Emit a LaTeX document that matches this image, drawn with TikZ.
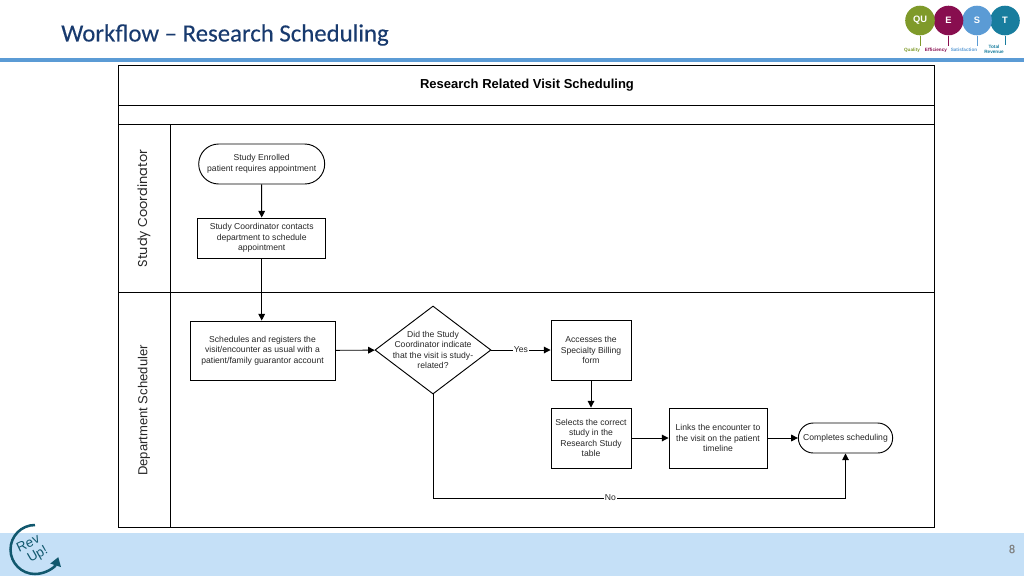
\documentclass[tikz,border=0pt]{standalone}
\usepackage{fontspec}
\setmainfont{Liberation Sans}
\newfontfamily\titlefont[FakeBold=0.2]{Carlito}
\newfontfamily\lanefont{Poppins}
\usetikzlibrary{positioning,shapes.geometric,shapes.misc,arrows.meta}
\definecolor{titleblue}{RGB}{24,58,110}
\definecolor{ruleblue}{RGB}{91,155,213}
\definecolor{bandblue}{RGB}{197,224,247}
\definecolor{revteal}{RGB}{17,88,110}
\definecolor{quolive}{RGB}{127,154,42}
\definecolor{eplum}{RGB}{136,14,79}
\definecolor{ssky}{RGB}{91,155,213}
\definecolor{tteal}{RGB}{24,125,158}
\tikzset{
  flowtext/.style={font=\fontsize{6.45pt}{7.9pt}\selectfont,align=center,text=black!85},
  stepbox/.style={draw,line width=0.7pt,flowtext,inner sep=1pt},
  endbox/.style={stepbox,rounded rectangle},
  choice/.style={draw,line width=0.7pt,diamond,inner sep=0pt,shape aspect=1.32},
  link/.style={line width=0.7pt,-{Triangle[length=5pt,width=5pt]}},
  tag/.style={flowtext,fill=white,inner sep=0.5pt},
  circ/.style={circle,inner sep=0pt,minimum size=22.2pt,text=white,font=\fontsize{7pt}{8pt}\selectfont\bfseries},
  legend/.style={font=\fontsize{3.5pt}{4pt}\selectfont\bfseries,align=center,inner sep=0pt},
  drop/.style={line width=0.2pt}
}
\begin{document}
\begin{tikzpicture}[x=0.75pt,y=0.75pt,yscale=-1,xscale=1]
\useasboundingbox (0,0) rectangle (1024,576);

%title and bands
\fill [bandblue] (0,533) rectangle (1024,576);
\fill [ruleblue] (0,58) rectangle (1024,62);
\node [anchor=west,inner sep=0pt,text=titleblue,font=\titlefont\fontsize{18.6pt}{22pt}\selectfont] (title) at (61,35) {Workflow – Research Scheduling};
\node [text=black!50,font=\titlefont\fontsize{9pt}{10pt}\selectfont,inner sep=0pt] (pagenum) at (1012,549) {8};

%swim lanes
\draw [line width=0.8pt] (118.5,65.5) rectangle (934.7,527.5);
\draw [line width=0.7pt] (118.5,105) -- (934.7,105);
\draw [line width=0.7pt] (118.5,124) -- (934.7,124);
\draw [line width=0.7pt] (118.5,292) -- (934.7,292);
\draw [line width=0.7pt] (170.5,124) -- (170.5,527.5);
\node [font=\bfseries\fontsize{9.76pt}{11pt}\selectfont,inner sep=0pt] (heading) at (527,85.5) {Research Related Visit Scheduling};
\node [rotate=90,font=\lanefont\fontsize{9.66pt}{11pt}\selectfont,text=black!85,inner sep=0pt] (coordlane) at (144,208.5) {Study Coordinator};
\node [rotate=90,font=\fontsize{9.8pt}{11pt}\selectfont,text=black!85,inner sep=0pt] (schedlane) at (144,410.5) {Department Scheduler};

%flow nodes
\node [endbox,minimum width=96.5pt,minimum height=30pt] (enrolled) at (261.7,164) {Study Enrolled\\patient requires appointment};
\node [stepbox,minimum width=96pt,minimum height=30pt] (contacts) at (261.7,238) {Study Coordinator contacts\\department to schedule\\appointment};
\node [stepbox,minimum width=108.75pt,minimum height=44.25pt] (registers) at (262.5,350.5) {Schedules and registers the\\visit/encounter as usual with a\\patient/family guarantor account};
\node [choice,minimum width=87pt,minimum height=66pt,label={[flowtext,anchor=center]center:Did the Study\\Coordinator indicate\\that the visit is study-\\related?}] (related) at (433,350) {};
\node [stepbox,minimum width=60pt,minimum height=45pt] (accesses) at (591,350) {Accesses the\\Specialty Billing\\form};
\node [stepbox,minimum width=60pt,minimum height=45pt] (selects) at (591,438) {Selects the correct\\study in the\\Research Study\\table};
\node [stepbox,minimum width=73.5pt,minimum height=45pt] (links) at (718,438) {Links the encounter to\\the visit on the patient\\timeline};
\node [endbox,minimum width=72.75pt,minimum height=22.5pt] (completes) at (845.5,438) {Completes scheduling};

%connectors
\draw [link] (enrolled) -- (contacts);
\draw [link] (contacts.south) -- (contacts.south |- registers.north);
\draw [link] (registers) -- (related);
\draw [link] (related) -- node [tag] (yes) {Yes} (accesses);
\draw [link] (accesses) -- (selects);
\draw [link] (selects) -- (links);
\draw [link] (links) -- (completes);
\coordinate (nocorner) at (433,498);
\draw [link] (related.south) -- (nocorner) -- node [tag,pos=0.43] (no) {No} (nocorner -| completes.south) -- (completes.south);

%quest logo
\node [circ,fill=tteal] (tlogo) at (1005,20.5) {T};
\node [circ,fill=ssky] (slogo) at (977,20.5) {S};
\node [circ,fill=eplum] (elogo) at (948.5,20.5) {E};
\node [circ,fill=quolive] (qlogo) at (920,20.5) {QU};
\node [legend,text=quolive] (quality) at (912,50) {Quality};
\node [legend,text=eplum] (efficiency) at (936,50) {Efficiency};
\node [legend,text=ssky] (satisfaction) at (964,50) {Satisfaction};
\node [legend,text=tteal] (revenue) at (994,49) {Total\\Revenue};
\draw [drop,quolive] (qlogo.south) -- ++(0,10);
\draw [drop,eplum] (elogo.south) -- ++(0,10);
\draw [drop,ssky] (slogo.south) -- ++(0,10);
\draw [drop,tteal] (tlogo.south) -- ++(0,9);

%rev up logo
\draw [revteal,line width=1.9pt,-{Triangle[length=6.5pt,width=8pt]}] (35,525) arc [start angle=-90,end angle=-342,radius=24.5];
\node [rotate=25,text=revteal,font=\fontsize{10pt}{11pt}\selectfont,inner sep=0pt] (rev) at (28,543) {Rev};
\node [rotate=30,text=revteal,font=\fontsize{10pt}{11pt}\selectfont,inner sep=0pt] (up) at (38,555) {Up!};
\end{tikzpicture}
\end{document}
